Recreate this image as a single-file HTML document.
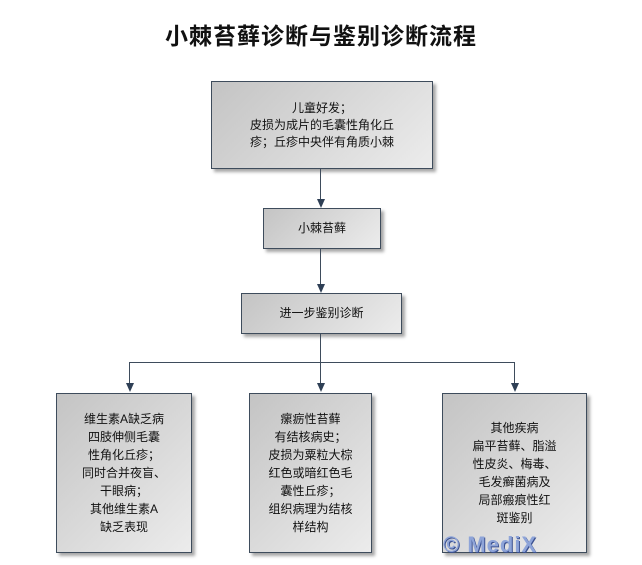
<!DOCTYPE html>
<html><head><meta charset="utf-8"><style>
body{margin:0;width:642px;height:565px;background:#fff;position:relative;overflow:hidden;font-family:"Liberation Sans","Noto Sans CJK SC",sans-serif;}
.t{position:absolute;left:0;width:642px;top:17px;text-align:center;font-size:23px;font-weight:bold;color:#111;letter-spacing:1px}
.b{position:absolute;box-sizing:border-box;border:1px solid #3e4c5c;background:linear-gradient(135deg,#c4c4c4,#ececec);box-shadow:3px 3px 3px rgba(0,0,0,.35);font-size:12px;line-height:17px;color:#111;display:flex;align-items:center;justify-content:center;text-align:center}
.l{position:absolute;background:#3e4c5c}
.a{position:absolute;width:0;height:0;border-left:4px solid transparent;border-right:4px solid transparent;border-top:9px solid #2e3f55}
</style></head><body>
<div class="t">小棘苔藓诊断与鉴别诊断流程</div>
<div class="b" style="left:211px;top:81px;width:222px;height:88px">儿童好发；<br>皮损为成片的毛囊性角化丘<br>疹；丘疹中央伴有角质小棘</div>
<div class="l" style="left:320px;top:169px;width:1px;height:31px"></div><div class="a" style="left:317px;top:199px"></div>
<div class="b" style="left:263px;top:208px;width:118px;height:41px">小棘苔藓</div>
<div class="l" style="left:320px;top:249px;width:1px;height:36px"></div><div class="a" style="left:317px;top:284px"></div>
<div class="b" style="left:241px;top:293px;width:161px;height:41px">进一步鉴别诊断</div>
<div class="l" style="left:320px;top:334px;width:1px;height:28px"></div>
<div class="l" style="left:129px;top:362px;width:386px;height:1px"></div>
<div class="l" style="left:129px;top:362px;width:1px;height:22px"></div><div class="a" style="left:126px;top:383px"></div>
<div class="l" style="left:320px;top:362px;width:1px;height:22px"></div><div class="a" style="left:317px;top:383px"></div>
<div class="l" style="left:514px;top:362px;width:1px;height:22px"></div><div class="a" style="left:511px;top:383px"></div>
<div class="b" style="left:56px;top:393px;width:136px;height:160px;font-size:12px;line-height:18px">维生素A缺乏病<br>四肢伸侧毛囊<br>性角化丘疹；<br>同时合并夜盲、<br>干眼病；<br>其他维生素A<br>缺乏表现</div>
<div class="b" style="left:249px;top:393px;width:123px;height:160px;line-height:18px">瘰疬性苔藓<br>有结核病史；<br>皮损为粟粒大棕<br>红色或暗红色毛<br>囊性丘疹；<br>组织病理为结核<br>样结构</div>
<div class="b" style="left:442px;top:393px;width:145px;height:160px;line-height:18px">其他疾病<br>扁平苔藓、脂溢<br>性皮炎、梅毒、<br>毛发癣菌病及<br>局部瘢痕性红<br>斑鉴别</div>
<div style="position:absolute;left:443px;top:532px;font-size:22px;font-weight:bold;color:#8ea4d8;letter-spacing:1px;text-shadow:1px 1px 0 #3a5090">© MediX</div>
</body></html>
